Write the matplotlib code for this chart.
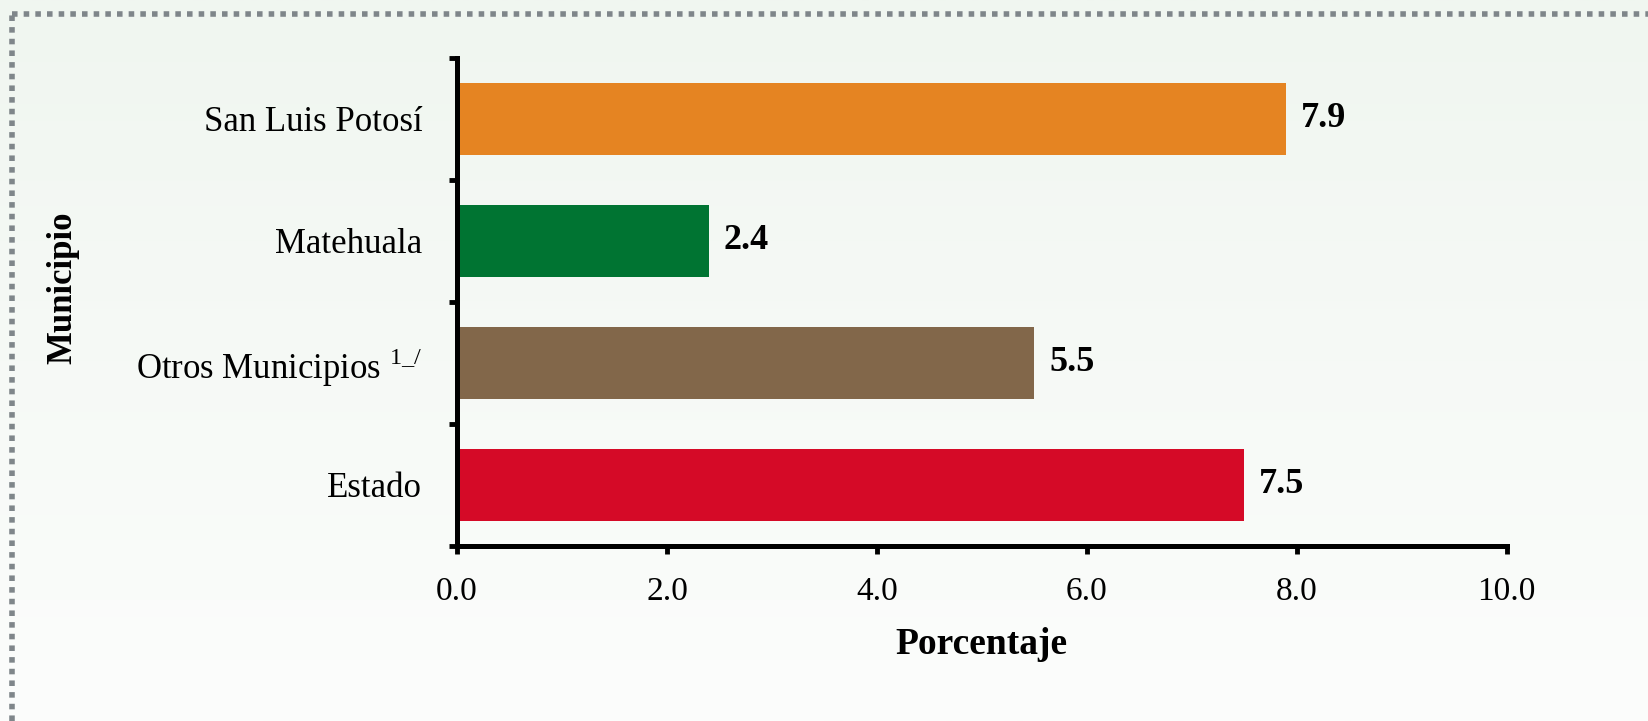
import matplotlib.pyplot as plt
from matplotlib.lines import Line2D
from matplotlib.colors import LinearSegmentedColormap
import numpy as np

plt.rcParams['font.family'] = ['Liberation Serif', 'DejaVu Serif']
plt.rcParams['mathtext.fontset'] = 'custom'
plt.rcParams['mathtext.rm'] = 'Liberation Serif'

# datos
municipios = ['San Luis Potosí', 'Matehuala', r'Otros Municipios $^{\mathrm{1\_/}}$', 'Estado']
porcentaje = [7.9, 2.4, 5.5, 7.5]
colores = ['#E58422', '#007432', '#82674A', '#D50A27']
xticks = [0, 2, 4, 6, 8, 10]

fig = plt.figure(figsize=(16.48, 7.21), dpi=100)
fig.patch.set_facecolor('#f4f8f4')

# fondo con degradado suave (verdoso arriba, blanco abajo)
bg = fig.add_axes([0, 0, 1, 1], zorder=-1)
grad = np.linspace(0, 1, 256).reshape(-1, 1)
bg.imshow(grad, aspect='auto', extent=[0, 1, 0, 1], origin='lower',
          cmap=LinearSegmentedColormap.from_list('bg', ['#fcfdfc', '#f0f6f0']))
bg.axis('off')

ax = fig.add_axes([0.2773, 0.2427, 0.637, 0.677])
ax.set_facecolor('none')

y = np.arange(len(municipios))[::-1]
ax.barh(y, porcentaje, height=0.59, color=colores)

for yi, v in zip(y, porcentaje):
    ax.text(v + 0.14, yi, f'{v:.1f}', va='center', ha='left',
            fontsize=26, fontweight='bold')

ax.set_xlim(0, 10)
ax.set_ylim(-0.5, 3.5)
ax.set_xticks(xticks)
ax.set_xticklabels([f'{t:.1f}' for t in xticks], fontsize=24)
ax.set_yticks(y)
ax.set_yticklabels(municipios, fontsize=25)
ax.set_yticks(np.arange(-0.5, 4.0, 1.0), minor=True)
ax.tick_params(axis='y', which='major', length=0, pad=25)
ax.tick_params(axis='y', which='minor', length=6, width=3.5, direction='out')
ax.tick_params(axis='x', length=6, width=3.5, direction='out', pad=16)

for s in ['top', 'right']:
    ax.spines[s].set_visible(False)
for s in ['left', 'bottom']:
    ax.spines[s].set_linewidth(3.6)

ax.set_xlabel('Porcentaje', fontsize=27, fontweight='bold', labelpad=14)
ax.set_ylabel('Municipio', fontsize=25, fontweight='bold')
ax.yaxis.set_label_coords(-0.36, 0.53)

# borde punteado
fig.add_artist(Line2D([0.0075, 1.0], [0.9806, 0.9806], transform=fig.transFigure,
                      color='#7f868a', linewidth=4, linestyle=(0, (1, 1.1))))
fig.add_artist(Line2D([0.0075, 0.0075], [0.0, 0.9806], transform=fig.transFigure,
                      color='#7f868a', linewidth=4, linestyle=(0, (1, 1.1))))

fig.savefig('out.png', dpi=100, facecolor=fig.get_facecolor())
